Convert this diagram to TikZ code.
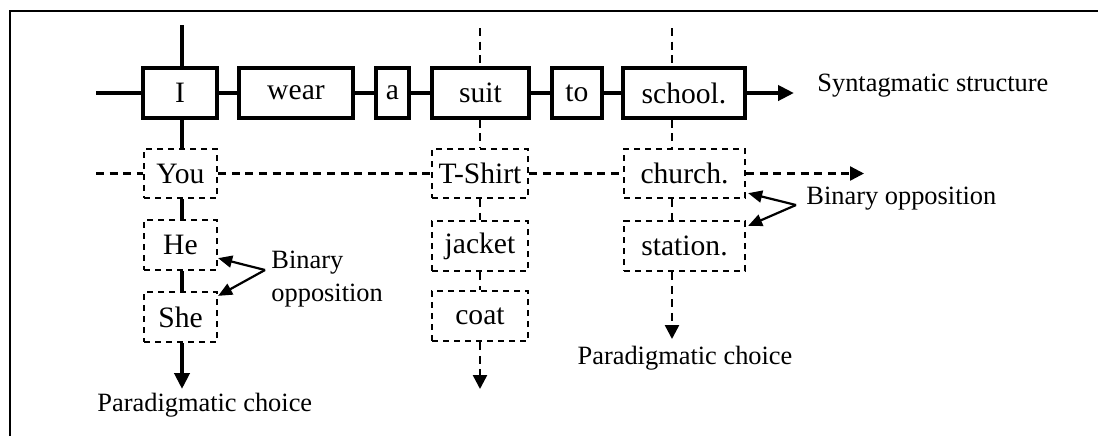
\documentclass[tikz,border=0pt]{standalone}
\usepackage{fontspec}
\setmainfont{Liberation Serif}
\usetikzlibrary{arrows.meta}
\begin{document}
\begin{tikzpicture}[x=0.5pt,y=-0.5pt,
  wordfont/.style={font=\fontsize{14.8}{17}\selectfont},
  solidbox/.style={draw,line width=1.7pt,minimum height=25pt,inner sep=0pt,wordfont},
  dashbox/.style={draw,line width=1.15pt,dash pattern=on 3.2pt off 2.3pt,minimum height=25pt,inner sep=0pt,wordfont},
  thickline/.style={line width=2.2pt},
  dashline/.style={line width=1.2pt,dash pattern=on 4pt off 2.8pt},
  lbl/.style={font=\fontsize{13.2}{16.5}\selectfont,inner sep=0pt},
  bigtip/.style={-{Triangle[length=8pt,width=7.5pt]}},
  smalltip/.style={-{Triangle[length=7pt,width=7pt]}},
  opptip/.style={-{Triangle[length=7pt,width=6pt]}},
  opparrow/.style={line width=1.1pt,opptip}]
\useasboundingbox (0,0) rectangle (1098,436);
\draw[line width=0.7pt] (10,436) -- (10,11) -- (1098,11);

% column x positions
\coordinate (lx) at (182,0);
\coordinate (mx) at (480,0);
\coordinate (rx) at (672,0);

% syntagmatic row
\node[solidbox,minimum width=37pt] (I) at (180,93) {I};
\node[solidbox,minimum width=57pt] (wear) at (296,93) {wear};
\node[solidbox,minimum width=16.5pt] (a) at (392.5,93) {a};
\node[solidbox,minimum width=48.5pt] (suit) at (480.5,93) {suit};
\node[solidbox,minimum width=25pt] (to) at (577,93) {to};
\node[solidbox,minimum width=61pt] (school) at (684,93) {school.};
\coordinate (synstart) at (96,93);
\coordinate (synend) at (794,93);
\node[lbl,anchor=west] (syn) at (817,86) {Syntagmatic structure};

\draw[thickline] (synstart) -- (I);
\draw[thickline] (I) -- (wear);
\draw[thickline] (wear) -- (a);
\draw[thickline] (a) -- (suit);
\draw[thickline] (suit) -- (to);
\draw[thickline] (to) -- (school);
\draw[thickline,bigtip] (school) -- (synend);

% second row
\node[dashbox,minimum width=36.5pt,minimum height=24.5pt] (you) at (180.5,173.5) {You};
\node[dashbox,minimum width=48pt,minimum height=24.5pt] (tshirt) at (480,173.5) {T-Shirt};
\node[dashbox,minimum width=60.5pt,minimum height=24.5pt] (church) at (684.5,173.5) {church.};
\coordinate (parstart) at (96,173.5);
\coordinate (parend) at (864,173.5);
\draw[dashline] (parstart) -- (you);
\draw[dashline] (you) -- (tshirt);
\draw[dashline] (tshirt) -- (church);
\draw[dashline,smalltip] (church) -- (parend);

% third and fourth rows
\node[dashbox,minimum width=36.5pt] (he) at (180.5,245) {He};
\node[dashbox,minimum width=48pt] (jacket) at (480,246) {jacket};
\node[dashbox,minimum width=60.5pt] (station) at (684.5,246) {station.};
\node[dashbox,minimum width=36.5pt] (she) at (180.5,317) {She};
\node[dashbox,minimum width=48pt] (coat) at (480,316) {coat};

% left column (thick)
\coordinate (ltop) at (182,25);
\coordinate (lend) at (182,389);
\draw[thickline] (ltop) -- (I.north -| lx);
\draw[thickline] (I.south -| lx) -- (you.north -| lx);
\draw[thickline] (you.south -| lx) -- (he.north -| lx);
\draw[thickline] (he.south -| lx) -- (she.north -| lx);
\draw[thickline,bigtip] (she.south -| lx) -- (lend);
\node[lbl,anchor=west] (pc1) at (97,405) {Paradigmatic choice};

% middle column (dashed)
\coordinate (mtop) at (480,28);
\coordinate (mend) at (480,389);
\draw[dashline] (mtop) -- (suit.north -| mx);
\draw[dashline] (suit.south -| mx) -- (tshirt.north -| mx);
\draw[dashline] (tshirt.south -| mx) -- (jacket.north -| mx);
\draw[dashline] (jacket.south -| mx) -- (coat.north -| mx);
\draw[dashline,smalltip] (coat.south -| mx) -- (mend);

% right column (dashed)
\coordinate (rtop) at (672,28);
\coordinate (rend) at (672,339);
\draw[dashline] (rtop) -- (school.north -| rx);
\draw[dashline] (school.south -| rx) -- (church.north -| rx);
\draw[dashline] (church.south -| rx) -- (station.north -| rx);
\draw[dashline,smalltip] (station.south -| rx) -- (rend);
\node[lbl] (pc2) at (685,358) {Paradigmatic choice};

% binary oppositions
\coordinate (bo1) at (265,270);
\draw[opparrow] (bo1) -- ([yshift=6.5pt]he.south east);
\draw[opparrow] (bo1) -- ([yshift=-2.5pt]she.north east);
\node[lbl,anchor=west,align=left] (bin1) at (271,279) {Binary\\opposition};

\coordinate (bo2) at (796,205);
\draw[opparrow] (bo2) -- ([yshift=3pt,xshift=1pt]church.south east);
\draw[opparrow] (bo2) -- ([yshift=-3pt,xshift=1pt]station.north east);
\node[lbl,anchor=west] (bin2) at (806,199) {Binary opposition};
\end{tikzpicture}
\end{document}
